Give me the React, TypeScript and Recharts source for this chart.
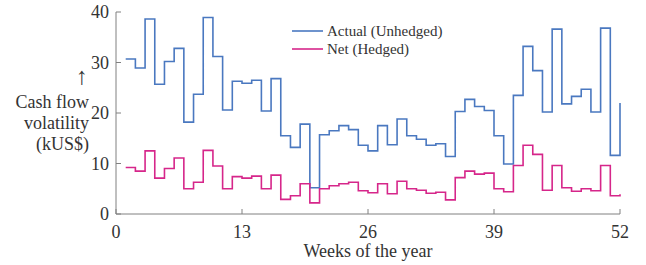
import { LineChart, Line, XAxis, YAxis, Legend } from 'recharts'

const WEEKS = [
  1, 2, 3, 4, 5, 6, 7, 8, 9, 10, 11, 12, 13, 14, 15, 16, 17, 18, 19, 20, 21, 22, 23, 24, 25, 26,
  27, 28, 29, 30, 31, 32, 33, 34, 35, 36, 37, 38, 39, 40, 41, 42, 43, 44, 45, 46, 47, 48, 49, 50, 51, 52,
]

// Actual (Unhedged), kUS$
const ACTUAL = [
  30.7, 28.9, 38.6, 25.7, 30.2, 32.8, 18.2, 23.7, 38.9, 31.2, 20.6, 26.3, 25.9,
  26.5, 20.4, 26.8, 15.5, 13.2, 17.8, 5.2, 15.7, 16.5, 17.5, 16.7, 13.6, 12.5,
  17.5, 13.7, 18.8, 15.5, 14.8, 13.6, 13.9, 11.4, 20.3, 22.7, 21.3, 20.5, 15.5,
  9.9, 23.5, 33.2, 28.4, 20.2, 36.6, 21.8, 23.3, 24.7, 20.2, 36.8, 11.6, 22.0,
]

// Net (Hedged), kUS$
const NET = [
  9.2, 8.5, 12.5, 7.1, 9.0, 11.1, 5.0, 6.3, 12.6, 9.5, 5.0, 7.4, 7.1,
  7.5, 5.0, 7.7, 2.9, 3.6, 6.0, 2.2, 5.0, 5.6, 6.0, 6.3, 4.6, 4.2,
  6.0, 4.0, 6.5, 5.0, 4.7, 4.1, 4.3, 2.8, 7.2, 8.5, 7.9, 8.1, 5.0,
  4.4, 9.6, 13.6, 11.8, 4.7, 9.6, 5.2, 4.5, 5.0, 4.6, 9.6, 3.6, 3.9,
]

const X_TICKS = [0, 13, 26, 39, 52]
const Y_TICKS = [0, 10, 20, 30, 40]
const Y_ARROW = '\u2191'
const Y_TITLE = ['Cash flow', 'volatility', '(kUS$)']

const ACTUAL_COLOR = '#4a78c0'
const NET_COLOR = '#d6268a'
const AXIS_COLOR = '#808080'
const TEXT_COLOR = '#333333'
const FONT = '"Liberation Serif", "Times New Roman", serif'

const data = WEEKS.map((week, i) => ({ week, actual: ACTUAL[i], net: NET[i] }))

function LegendBox() {
  const rows = [
    { name: 'Actual (Unhedged)', color: ACTUAL_COLOR },
    { name: 'Net (Hedged)', color: NET_COLOR },
  ]
  return (
    <div style={{ fontFamily: FONT, fontSize: 15, color: TEXT_COLOR }}>
      {rows.map((r) => (
        <div key={r.name} style={{ display: 'flex', alignItems: 'center', height: 18, whiteSpace: 'nowrap' }}>
          <svg width={31} height={4} style={{ marginRight: 4 }}>
            <line x1={0} y1={2} x2={31} y2={2} stroke={r.color} strokeWidth={1.6} />
          </svg>
          <span>{r.name}</span>
        </div>
      ))}
    </div>
  )
}

export default function App() {
  return (
    <div style={{ position: 'absolute', left: 0, top: 0, width: 646, height: 265, background: '#fff' }}>
      <LineChart
        width={646}
        height={265}
        data={data}
        margin={{ top: 12, right: 26, bottom: 0, left: 0 }}
        style={{ fontFamily: FONT }}
      >
        <XAxis
          dataKey="week"
          type="number"
          domain={[0, 52]}
          ticks={X_TICKS}
          height={51}
          stroke={AXIS_COLOR}
          tickSize={-5}
          tickMargin={16}
          tick={{ fontSize: 18, fill: TEXT_COLOR, fontFamily: FONT }}
          label={{ value: 'Weeks of the year', position: 'insideBottom', offset: 8, fontSize: 18, fill: TEXT_COLOR, fontFamily: FONT }}
        />
        <YAxis
          type="number"
          domain={[0, 40]}
          ticks={Y_TICKS}
          width={116}
          stroke={AXIS_COLOR}
          tickSize={-5}
          tickMargin={12}
          tick={{ fontSize: 18, fill: TEXT_COLOR, fontFamily: FONT }}
        />
        <Legend
          layout="vertical"
          verticalAlign="middle"
          align="center"
          content={() => <LegendBox />}
          wrapperStyle={{ left: 292, top: 22, width: 'auto' }}
        />
        <Line
          type="stepAfter"
          dataKey="actual"
          name="Actual (Unhedged)"
          stroke={ACTUAL_COLOR}
          strokeWidth={1.6}
          dot={false}
          isAnimationActive={false}
        />
        <Line
          type="stepAfter"
          dataKey="net"
          name="Net (Hedged)"
          stroke={NET_COLOR}
          strokeWidth={1.6}
          dot={false}
          isAnimationActive={false}
        />
      </LineChart>
      <div
        style={{
          position: 'absolute',
          left: 0,
          top: 71,
          width: 89,
          textAlign: 'right',
          fontFamily: FONT,
          fontSize: 18,
          lineHeight: '21px',
          color: TEXT_COLOR,
        }}
      >
        <div style={{ fontSize: 24, height: 21, position: 'relative', top: -5, paddingRight: 1 }}>{Y_ARROW}</div>
        {Y_TITLE.map((t) => (
          <div key={t}>{t}</div>
        ))}
      </div>
    </div>
  )
}
